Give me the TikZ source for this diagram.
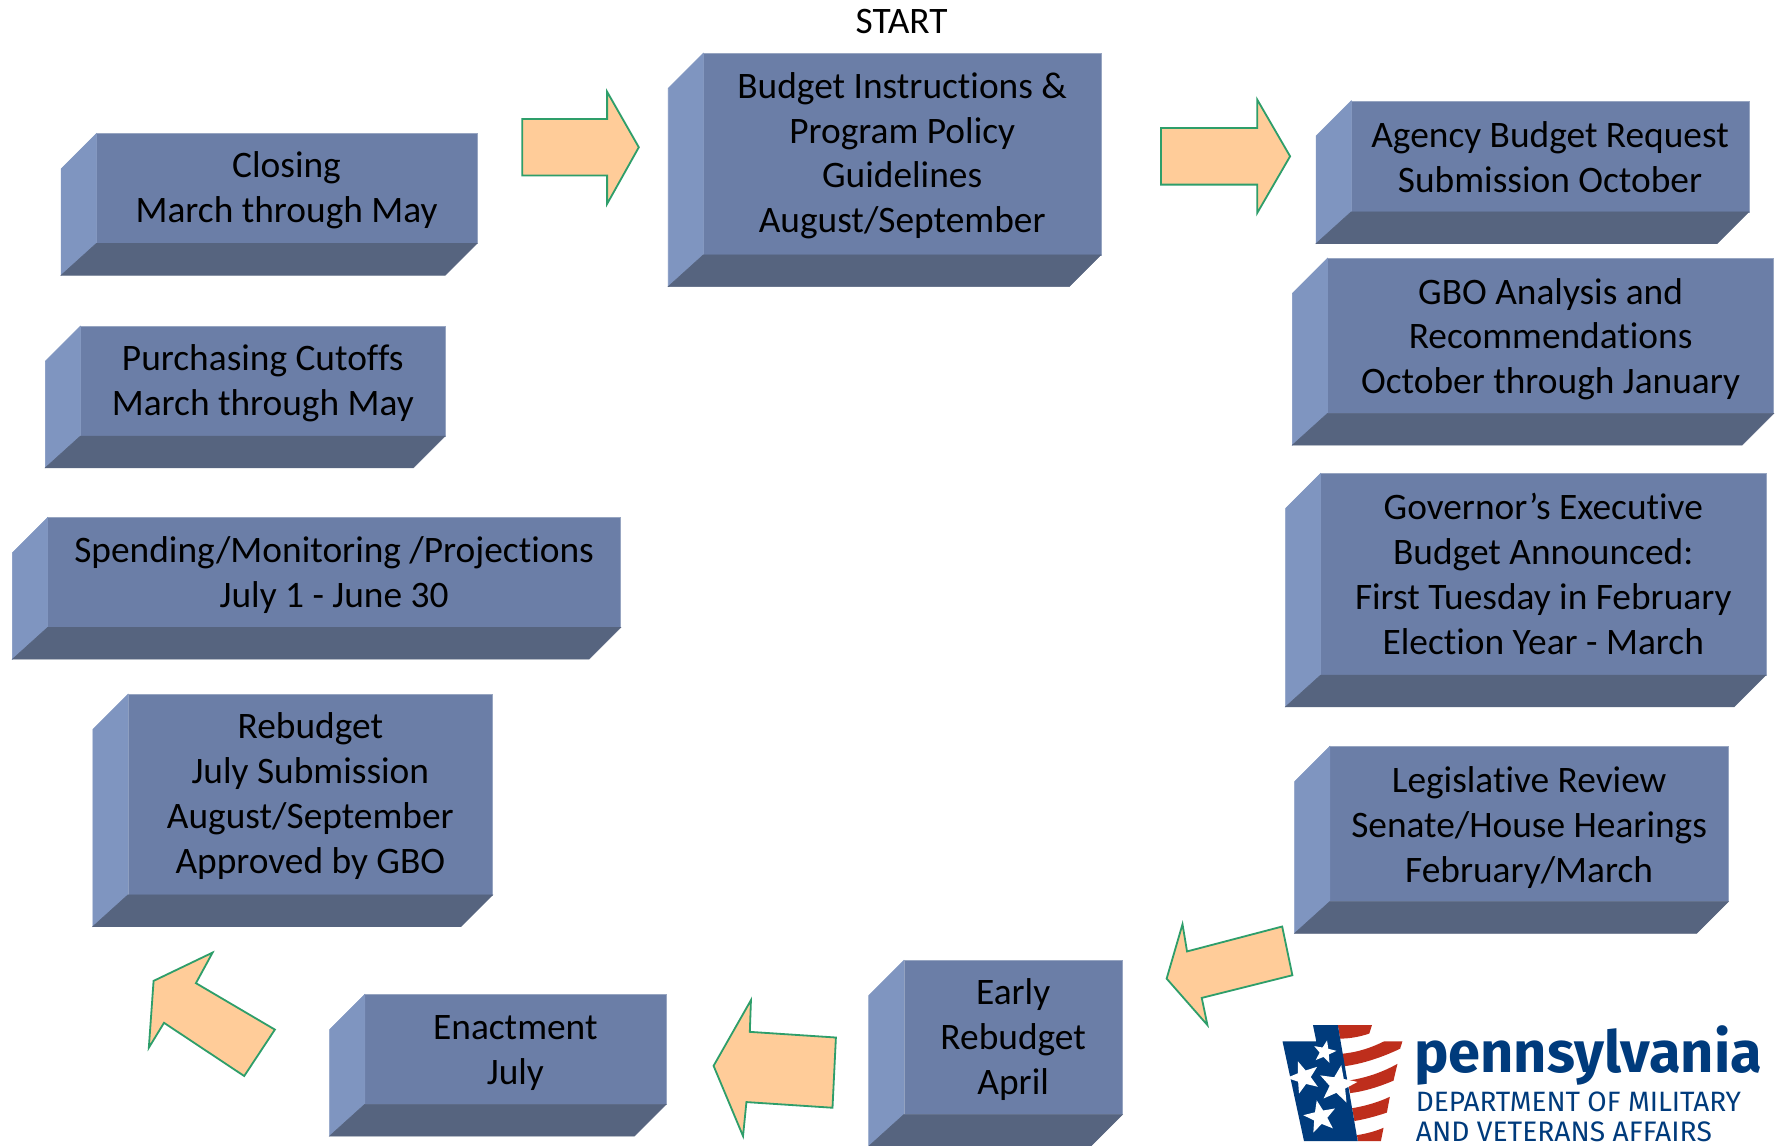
\documentclass[tikz,border=0pt]{standalone}
\usepackage{fontspec}
\setmainfont[Ligatures=NoCommon]{Carlito}
\newfontfamily\logofont{Fira Sans}
\usetikzlibrary{shapes.geometric}
\definecolor{facefront}{HTML}{6B7EA7}
\definecolor{faceleft}{HTML}{7F95C0}
\definecolor{facebottom}{HTML}{56647F}
\definecolor{facearrow}{HTML}{FFCC99}
\definecolor{linearrow}{HTML}{2E9E6A}
\definecolor{logoblue}{HTML}{003B7C}
\definecolor{logored}{HTML}{BE2E1C}
\tikzset{
 boxfront/.style={fill=facefront,draw=facefront!70!white,line width=.5pt},
 boxleft/.style={fill=faceleft,draw=faceleft,line width=.5pt},
 boxbottom/.style={fill=facebottom,draw=facebottom,line width=.5pt},
 boxtext/.style={align=center,text=black,inner sep=0pt,font=\fontsize{33}{39.7}\selectfont},
 blockarrow/.style={fill=facearrow,draw=linearrow,line width=1.6pt,line join=miter},
 logostar/.style={star,star points=5,star point ratio=2.4,fill=white,inner sep=0pt},
}
\newcommand{\bevelbox}[7][2]{%
 \fill[boxfront] ({#3+31},#4) rectangle (#5,{#6-28});
 \fill[boxleft] (#3,{#4+31}) -- ({#3+31},#4) -- ({#3+31},{#6-28}) -- (#3,#6) -- cycle;
 \fill[boxbottom] (#3,#6) -- ({#3+31},{#6-28}) -- (#5,{#6-28}) -- ({#5-28},#6) -- cycle;
 \node[boxtext] (#2) at ({(#3+31+#5)/2},{(#4+#6-28)/2+#1}) {#7};
}
\begin{document}
\begin{tikzpicture}[x=1pt,y=-1pt]
\useasboundingbox (0,0) rectangle (1568,1011.7);
\fill[white] (0,0) rectangle (1568,1011.7);
\node[boxtext] (start) at (796,18.7) {START};
\bevelbox[1.5]{budget}{590}{47}{972}{253}{Budget Instructions \&\\Program Policy\\Guidelines\\August/September}
\bevelbox[1.5]{closing}{54}{118}{421}{243}{Closing\\March through May}
\bevelbox{purchasing}{40}{288}{393}{413}{Purchasing Cutoffs\\March through May}
\bevelbox{spending}{11}{457}{548}{582}{Spending/Monitoring /Projections\\July 1 - June 30}
\bevelbox[1]{rebudget}{82}{613}{435}{818}{Rebudget\\July Submission\\August/September\\Approved by GBO}
\bevelbox[3]{enactment}{291}{878}{588}{1003}{Enactment\\July}
\bevelbox{early}{767}{848}{991}{1012}{Early\\Rebudget\\April}
\bevelbox[3]{legislative}{1143}{659}{1526}{824}{Legislative Review\\Senate/House Hearings\\February/March}
\bevelbox[0]{governor}{1135}{418}{1559}{624}{Governor’s Executive\\Budget Announced:\\First Tuesday in February\\Election Year - March}
\bevelbox[3]{gbo}{1141}{228}{1566}{393}{GBO Analysis and\\Recommendations\\October through January}
\bevelbox[0.5]{agency}{1162}{89}{1544}{215}{Agency Budget Request\\Submission October}
% block arrows
\draw[blockarrow] (461,105) -- (536,105) -- (536,81) -- (564,130) -- (536,180) -- (536,155) -- (461,155) -- cycle;
\draw[blockarrow] (1025,113) -- (1110,113) -- (1110,88) -- (1139,138) -- (1110,188) -- (1110,163) -- (1025,163) -- cycle;
\draw[blockarrow] (1030,864) -- (1044,816) -- (1048,840) -- (1132,818) -- (1141,861) -- (1061,881) -- (1066,905) -- cycle;
\draw[blockarrow] (630,941) -- (663,883) -- (662,911) -- (738,916) -- (735,978) -- (659,973) -- (656,1003) -- cycle;
\draw[blockarrow] (135.6,866) -- (187.7,841) -- (173,868) -- (242.7,909) -- (215.6,950) -- (144.8,903) -- (131.4,925) -- cycle;
% logo
\begin{scope}[shift={(1112.4,882.8)},x=0.2925pt,y=-0.297pt]
 \fill[white] (160,75) -- (338,75) -- (330,123) -- (430,123) -- (365,420) -- (133,420) -- (68,123) -- (170,123) -- cycle;
 \fill[logored] (235,75) -- (338,75) -- (330,100) .. controls (300,110) and (270,115) .. (242,115) -- cycle;
 \fill[logored] (248,160) .. controls (300,155) and (340,140) .. (375,123) -- (430,123) -- (423,145) .. controls (370,170) and (310,190) .. (255,197) -- cycle;
 \fill[logored] (265,240) .. controls (320,232) and (370,215) .. (415,190) -- (403,240) .. controls (360,258) and (315,272) .. (272,277) -- cycle;
 \fill[logored] (278,322) .. controls (320,315) and (360,303) .. (392,288) -- (383,335) .. controls (350,346) and (315,355) .. (285,360) -- cycle;
 \fill[logored] (293,402) .. controls (320,398) and (350,390) .. (373,380) -- (365,420) -- (295,420) -- cycle;
 \fill[logoblue] (160,75) -- (235,75) -- (295,420) -- (133,420) -- (68,123) -- (170,123) -- cycle;
 \node[logostar,minimum size=21pt,rotate=-12] (star1) at (195,155) {};
 \node[logostar,minimum size=30pt,rotate=20] (star2) at (132,230) {};
 \node[logostar,minimum size=35pt,rotate=-10] (star3) at (235,252) {};
 \node[logostar,minimum size=30pt,rotate=12] (star4) at (182,348) {};
 \node[anchor=base west,inner sep=0pt,text=logoblue,font=\logofont\bfseries\fontsize{51}{51}\selectfont] (logo1) at (465,215) {pennsylvania};
 \node[anchor=base west,inner sep=0pt,text=logoblue,font=\logofont\fontsize{24.7}{24.7}\selectfont] (logo2) at (470,332) {DEPARTMENT OF MILITARY};
 \node[anchor=base west,inner sep=0pt,text=logoblue,font=\logofont\fontsize{24.9}{24.9}\selectfont] (logo3) at (470,421) {AND VETERANS AFFAIRS};
\end{scope}
\end{tikzpicture}
\end{document}
